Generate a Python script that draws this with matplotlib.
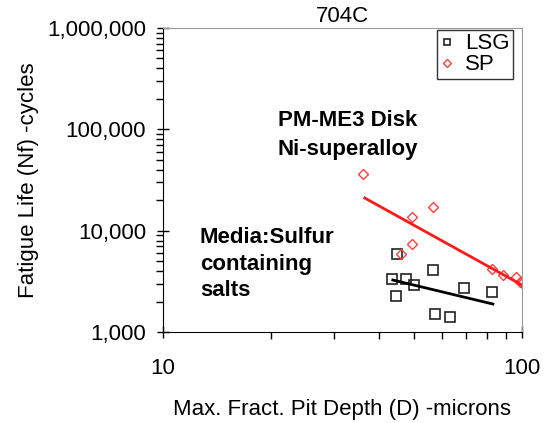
import matplotlib
matplotlib.use("Agg")
import matplotlib.pyplot as plt
from matplotlib.ticker import FuncFormatter, LogLocator, NullFormatter

plt.rcParams['font.family'] = ['Liberation Sans', 'DejaVu Sans']

# LSG data (square markers)
lsg_depth = [44.9, 43.4, 47.5, 50.0, 44.6, 56.5, 68.9, 82.5, 57.2, 63.0]
lsg_life = [5900, 3340, 3340, 2910, 2270, 4090, 2720, 2480, 1510, 1410]
lsg_fit_x = [43.7, 83.0]
lsg_fit_y = [3260, 1890]

# SP data (diamond markers)
sp_depth = [36.1, 49.4, 56.5, 49.4, 46.0, 82.5, 88.5, 96.2, 99.0, 100.0]
sp_life = [36300, 13650, 17100, 7390, 5890, 4190, 3650, 3490, 3150, 3050]
sp_fit_x = [36.5, 100.0]
sp_fit_y = [21000, 2910]

fs = 16

fig = plt.figure(figsize=(5.5, 4.23), dpi=100)
ax = fig.add_axes([0.296, 0.215, 0.653, 0.719])

ax.plot(lsg_depth, lsg_life, 's', ms=7, mfc='none', mec='#222222', mew=1.2, label='LSG')
ax.plot(sp_depth, sp_life, 'D', ms=5.5, mfc='none', mec='#ff4040', mew=1.0, label='SP')
ax.plot(lsg_fit_x, lsg_fit_y, color='black', lw=2)
ax.plot(sp_fit_x, sp_fit_y, color='#ff1a1a', lw=2)

ax.set_xscale('log')
ax.set_yscale('log')
ax.set_xlim(10, 100)
ax.set_ylim(1000, 1000000)

fmt = FuncFormatter(lambda v, p: f"{int(round(v)):,}")
ax.xaxis.set_major_formatter(fmt)
ax.yaxis.set_major_formatter(fmt)
ax.xaxis.set_minor_formatter(NullFormatter())
ax.yaxis.set_minor_formatter(NullFormatter())
ax.yaxis.set_minor_locator(LogLocator(base=10, subs=range(2, 10)))

ax.tick_params(axis='both', which='major', labelsize=fs, direction='inout', length=8, width=1)
ax.tick_params(axis='both', which='minor', direction='out', length=5, width=1)
ax.tick_params(axis='x', which='major', pad=15)
ax.tick_params(axis='y', which='major', pad=8)

ax.spines['top'].set_color('#999999')
ax.spines['right'].set_color('#999999')

ax.set_title('704C', fontsize=fs, pad=4)
ax.set_xlabel('Max. Fract. Pit Depth (D) -microns', fontsize=fs, labelpad=14)
ax.set_ylabel('Fatigue Life (Nf) -cycles', fontsize=fs, labelpad=6)

ax.text(0.32, 0.73, 'PM-ME3 Disk\nNi-superalloy', transform=ax.transAxes,
        fontsize=fs, fontweight='bold', va='top', ha='left', linespacing=1.5)
ax.text(0.103, 0.345, 'Media:Sulfur\ncontaining\nsalts', transform=ax.transAxes,
        fontsize=fs, fontweight='bold', va='top', ha='left', linespacing=1.35)

leg = ax.legend(loc='upper right', bbox_to_anchor=(0.98, 1.0), fontsize=fs,
                frameon=True, fancybox=False, edgecolor='black', handlelength=0.6,
                handletextpad=0.5, borderpad=0.15, labelspacing=0.0, markerscale=0.7,
                borderaxespad=0.1)
leg.get_frame().set_linewidth(1.0)

fig.savefig('out.png', dpi=100)
